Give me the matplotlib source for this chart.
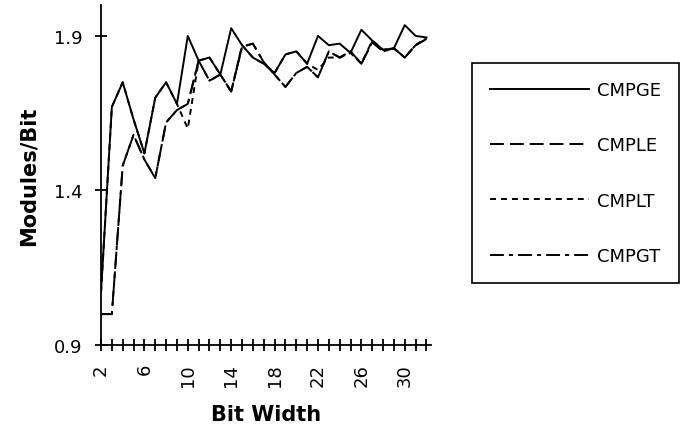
import matplotlib
matplotlib.use('Agg')
import matplotlib.pyplot as plt

plt.rcParams['font.family'] = ['DejaVu Sans']
plt.rcParams['lines.scale_dashes'] = False

# Data
bit_width = list(range(2, 33))
cmpge = [1.07, 1.67, 1.75, 1.63, 1.52, 1.70, 1.75, 1.68, 1.90, 1.82,
         1.83, 1.775, 1.925, 1.87, 1.83, 1.81, 1.78, 1.84, 1.85, 1.81,
         1.90, 1.87, 1.875, 1.845, 1.92, 1.885, 1.855, 1.86, 1.935, 1.90, 1.895]
cmple = [1.00, 1.00, 1.48, 1.58, 1.50, 1.44, 1.62, 1.66, 1.68, 1.82,
         1.755, 1.775, 1.72, 1.865, 1.875, 1.815, 1.775, 1.735, 1.78, 1.80,
         1.766, 1.85, 1.83, 1.85, 1.81, 1.88, 1.85, 1.86, 1.83, 1.87, 1.89]
cmplt = [1.07, 1.67, 1.75, 1.63, 1.52, 1.70, 1.75, 1.68, 1.60, 1.82,
         1.83, 1.775, 1.72, 1.87, 1.83, 1.81, 1.78, 1.84, 1.85, 1.81,
         1.79, 1.83, 1.83, 1.845, 1.81, 1.885, 1.855, 1.86, 1.83, 1.87, 1.895]
cmpgt = [1.00, 1.00, 1.48, 1.58, 1.50, 1.44, 1.62, 1.66, 1.68, 1.82,
         1.755, 1.775, 1.72, 1.865, 1.875, 1.815, 1.775, 1.735, 1.78, 1.80,
         1.766, 1.85, 1.83, 1.85, 1.81, 1.88, 1.85, 1.86, 1.83, 1.87, 1.89]
y_ticks = [0.9, 1.4, 1.9]
x_ticks_labeled = [2, 6, 10, 14, 18, 22, 26, 30]

fig = plt.figure(figsize=(6.82, 4.27), dpi=100)
ax = fig.add_axes([101 / 682, 81 / 427, 329.8 / 682, 340 / 427])

lw = 1.4
ax.plot(bit_width, cmplt, color='black', lw=lw, linestyle=(0, (4.3, 3.6)), label='CMPLT')
ax.plot(bit_width, cmpgt, color='black', lw=lw, linestyle=(0, (10, 3.6, 3, 3.6)), label='CMPGT')
ax.plot(bit_width, cmple, color='black', lw=lw, linestyle=(0, (10, 4.3)), label='CMPLE')
ax.plot(bit_width, cmpge, color='black', lw=lw, linestyle='-', label='CMPGE')

ax.set_xlim(2, 32.4)
ax.set_ylim(0.9, 2.0)

# every integer gets a tick, only every fourth is labelled
ax.set_xticks(bit_width)
ax.set_xticklabels([str(b) if b in x_ticks_labeled else '' for b in bit_width],
                   rotation=90, fontsize=13)
ax.set_yticks(y_ticks)
ax.set_yticklabels(['0.9', '1.4', '1.9'], fontsize=13)
ax.tick_params(axis='x', direction='inout', length=8, width=1.3, pad=9)
ax.tick_params(axis='y', direction='inout', length=8.6, width=1.3, pad=9)

for side in ['top', 'right']:
    ax.spines[side].set_visible(False)
for side in ['left', 'bottom']:
    ax.spines[side].set_linewidth(1.3)

ax.set_xlabel('Bit Width', fontsize=15, fontweight='bold')
ax.xaxis.set_label_coords(0.5, -0.175)
ax.set_ylabel('Modules/Bit', fontsize=15, fontweight='bold')
ax.yaxis.set_label_coords(-0.19, 0.5)

handles, labels = ax.get_legend_handles_labels()
order = ['CMPGE', 'CMPLE', 'CMPLT', 'CMPGT']
handles = [handles[labels.index(name)] for name in order]
leg = ax.legend(handles, order, loc='upper left',
                bbox_to_anchor=(472 / 682, 1 - 64 / 427), bbox_transform=fig.transFigure,
                fontsize=13, handlelength=5.5, handletextpad=0.4,
                labelspacing=2.07, borderpad=1.0, borderaxespad=0, fancybox=False,
                framealpha=1, edgecolor='black')
leg.get_frame().set_linewidth(1.2)

fig.savefig('out.png', dpi=100)
